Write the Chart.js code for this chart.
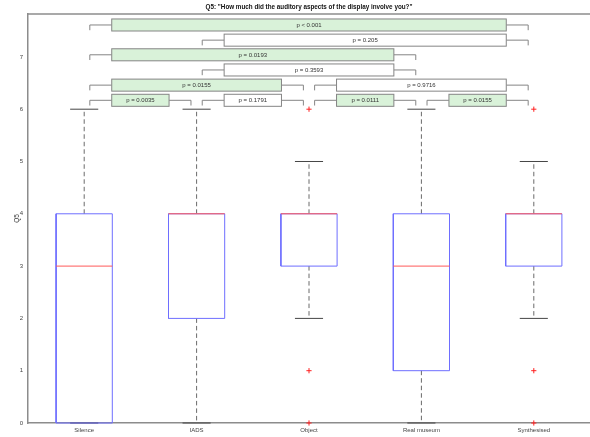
<!DOCTYPE html>
<html>
<head>
<meta charset="utf-8">
<script src="https://cdn.jsdelivr.net/npm/chart.js@4.4.1/dist/chart.umd.min.js"></script>
<style>
  html, body { margin: 0; padding: 0; background: #fff; overflow: hidden; }
  #wrap { width: 590px; height: 437px; position: relative; }
  canvas { display: block; }
</style>
</head>
<body>
<div id="wrap"><canvas id="c"></canvas></div>
<script>
// groups and box statistics
const groups = ["Silence", "IADS", "Object", "Real museum", "Synthesised"];
const whiskerLow = [0, 0, 2, 0, 2];
const q1 = [0, 2, 3, 1, 3];
const medians = [3, 4, 4, 3, 4];
const q3 = [4, 4, 4, 4, 4];
const whiskerHigh = [6, 6, 5, 6, 5];
// outliers: [group number, value]
const outliers = [[3, 6], [3, 1], [3, 0], [5, 6], [5, 1], [5, 0]];

// pairwise comparisons
const pairs = [[1, 5], [2, 5], [1, 4], [2, 4], [1, 3], [3, 5], [1, 2], [2, 3], [3, 4], [4, 5]];
const pLabels = ["p < 0.001", "p = 0.205", "p = 0.0193", "p = 0.3593", "p = 0.0155",
                 "p = 0.9716", "p = 0.0035", "p = 0.1791", "p = 0.0111", "p = 0.0155"];
const pLevels = [7.61, 7.32, 7.04, 6.75, 6.46, 6.46, 6.17, 6.17, 6.17, 6.17];
const pSignificant = [true, false, true, false, true, false, true, false, true, true];

const yTicks = [0, 1, 2, 3, 4, 5, 6, 7];

const FONT = "'Liberation Sans', Arial, sans-serif";
const BOX_HALF = 0.25;
const CAP_HALF = 0.125;

// build line paths from the stats
const boxPts = [], medPts = [], whiskPts = [], capPts = [];
groups.forEach((g, i) => {
  const c = i + 1;
  boxPts.push({x: c - BOX_HALF, y: q1[i]}, {x: c + BOX_HALF, y: q1[i]},
              {x: c + BOX_HALF, y: q3[i]}, {x: c - BOX_HALF, y: q3[i]},
              {x: c - BOX_HALF, y: q1[i]}, {x: c, y: null});
  medPts.push({x: c - BOX_HALF, y: medians[i]}, {x: c + BOX_HALF, y: medians[i]}, {x: c, y: null});
  whiskPts.push({x: c, y: q3[i]}, {x: c, y: whiskerHigh[i]}, {x: c, y: null},
                {x: c, y: q1[i]}, {x: c, y: whiskerLow[i]}, {x: c, y: null});
  capPts.push({x: c - CAP_HALF, y: whiskerHigh[i]}, {x: c + CAP_HALF, y: whiskerHigh[i]}, {x: c, y: null},
              {x: c - CAP_HALF, y: whiskerLow[i]}, {x: c + CAP_HALF, y: whiskerLow[i]}, {x: c, y: null});
});

const lineSet = (data, color, extra) => Object.assign({
  type: "line", data, borderColor: color, borderWidth: 1, pointRadius: 0,
  spanGaps: false, fill: false, clip: false, tension: 0
}, extra || {});

// significance bars + frame + title
const extrasPlugin = {
  id: "extras",
  afterDatasetsDraw(chart) {
    const {ctx, chartArea, scales: {x, y}} = chart;
    ctx.save();
    // top frame line
    ctx.strokeStyle = "#8c8c8c";
    ctx.lineWidth = 1.5;
    ctx.beginPath();
    ctx.moveTo(chartArea.left, chartArea.top);
    ctx.lineTo(chartArea.right, chartArea.top);
    ctx.stroke();

    pairs.forEach(([a, b], i) => {
      const lv = pLevels[i];
      const yc = y.getPixelForValue(lv);
      const yt = y.getPixelForValue(lv + 0.115);
      const yb = y.getPixelForValue(lv - 0.115);
      const yd = y.getPixelForValue(lv - 0.1);
      const bx0 = x.getPixelForValue(a + 0.245);
      const bx1 = x.getPixelForValue(b - 0.245);
      const lx0 = x.getPixelForValue(a + 0.05);
      const lx1 = x.getPixelForValue(b - 0.05);

      ctx.strokeStyle = "#858585";
      ctx.lineWidth = 1;
      ctx.beginPath();
      ctx.moveTo(lx0, yd); ctx.lineTo(lx0, yc); ctx.lineTo(bx0, yc);
      ctx.moveTo(bx1, yc); ctx.lineTo(lx1, yc); ctx.lineTo(lx1, yd);
      ctx.stroke();

      ctx.fillStyle = pSignificant[i] ? "#d9f2d9" : "#ffffff";
      ctx.fillRect(bx0, yt, bx1 - bx0, yb - yt);
      ctx.strokeRect(bx0, yt, bx1 - bx0, yb - yt);

      ctx.fillStyle = "#333";
      ctx.font = "6px " + FONT;
      ctx.textAlign = "center";
      ctx.textBaseline = "middle";
      ctx.fillText(pLabels[i], (bx0 + bx1) / 2, yc + 0.5);
    });

    // title centred on the axes
    ctx.fillStyle = "#111";
    ctx.font = "bold 6.3px " + FONT;
    ctx.textAlign = "center";
    ctx.textBaseline = "middle";
    ctx.fillText('Q5: "How much did the auditory aspects of the display involve you?"',
                 (chartArea.left + chartArea.right) / 2, 7.5);
    ctx.restore();
  }
};

new Chart(document.getElementById("c"), {
  type: "scatter",
  data: {
    datasets: [
      {
        type: "scatter",
        data: outliers.map(([g, v]) => ({x: g, y: v})),
        pointStyle: "cross", pointRadius: 2.6, borderColor: "#ff2020",
        backgroundColor: "#ff2020", borderWidth: 1, clip: false
      },
      lineSet(medPts, "#ff5a5a"),
      lineSet(boxPts, "#6e6eff"),
      lineSet(capPts, "#454545"),
      lineSet(whiskPts, "#6a6a6a", {borderDash: [4.5, 3]})
    ]
  },
  options: {
    responsive: true,
    maintainAspectRatio: false,
    animation: false,
    layout: {autoPadding: false, padding: {top: 14, left: 0, right: 0, bottom: 0}},
    plugins: {legend: {display: false}, tooltip: {enabled: false}, title: {display: false}},
    scales: {
      x: {
        type: "linear", min: 0.5, max: 5.5,
        grid: {display: false, drawTicks: false},
        border: {display: true, color: "#8c8c8c", width: 1.5},
        afterBuildTicks: (s) => { s.ticks = groups.map((g, i) => ({value: i + 1})); },
        afterFit: (s) => { s.height = 14; s.paddingLeft = 0; s.paddingRight = 0; },
        ticks: {
          padding: 4, color: "#444", font: {family: FONT, size: 6},
          callback: (v) => groups[v - 1]
        }
      },
      y: {
        min: 0, max: 7.82,
        grid: {display: false, drawTicks: false},
        border: {display: true, color: "#8c8c8c", width: 1.5},
        afterBuildTicks: (s) => { s.ticks = yTicks.map(v => ({value: v})); },
        afterFit: (s) => { s.width = 28; s.paddingTop = 0; s.paddingBottom = 0; },
        ticks: {padding: 5, color: "#444", font: {family: FONT, size: 6}},
        title: {display: true, text: "Q5", color: "#333", font: {family: FONT, size: 6.5},
                padding: {top: 13, bottom: 0}}
      }
    }
  },
  plugins: [extrasPlugin]
});
</script>
</body>
</html>
